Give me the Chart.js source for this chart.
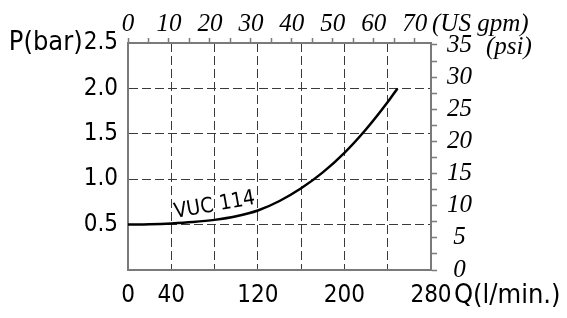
<!DOCTYPE html>
<html>
<head>
<meta charset="utf-8">
<script src="https://cdn.jsdelivr.net/npm/chart.js@4.4.0/dist/chart.umd.min.js"></script>
<style>
  html, body { margin: 0; padding: 0; background: #fff; }
</style>
</head>
<body>
<canvas id="chart" width="567" height="318"></canvas>
<script>
// curve VUC 114
const flowLpm = [0, 20, 40, 60, 80, 100, 120, 140, 160, 180, 200, 220, 240, 249];
const pressureBar = [0.5, 0.504, 0.513, 0.528, 0.552, 0.592, 0.655, 0.76, 0.9, 1.075, 1.29, 1.55, 1.85, 2.0];
const flowTickLabels = [0, 40, 120, 200, 280];
const flowMax = 280;
const pressureMax = 2.5;
const gpmMax = 73.97; // 280 l/min
const psiMax = 35.3;   // as drawn on the right axis

const axisGray = "#7a7a7a";
const gridDark = "#3a3a3a";
const sansDigits = { family: '"DejaVu Sans Condensed", "DejaVu Sans", sans-serif', size: 24 };
const serifItalic = { family: '"Liberation Serif", "DejaVu Serif", serif', size: 25, style: "italic" };
const sansTitle = '27px "DejaVu Sans Condensed", "DejaVu Sans", sans-serif';

const extraText = {
  id: "extraText",
  afterDraw(chart) {
    const { ctx, scales } = chart;
    const xs = scales.x, ys = scales.y, yr = scales.yPsi;
    ctx.save();
    ctx.fillStyle = "#000";
    ctx.textBaseline = "middle";

    // P(bar) in front of the 2.5 tick
    ctx.font = `${sansDigits.size}px ${sansDigits.family}`;
    const w25 = ctx.measureText("2.5").width;
    ctx.font = sansTitle;
    ctx.textAlign = "right";
    ctx.fillText("P(bar)", ys.right - 10 - w25 - 1, ys.getPixelForValue(2.5));

    // Q(l/min.) after the 280 tick
    ctx.textAlign = "left";
    ctx.fillText("Q(l/min.)", xs.getPixelForValue(280) + 23, xs.top + 26);

    // units of the italic axes
    ctx.font = `italic ${serifItalic.size}px ${serifItalic.family}`;
    ctx.fillText("(US gpm)", xs.right + 1, chart.chartArea.top - 19);
    ctx.fillText("(psi)", yr.left + 55, yr.getPixelForValue(35) + 2);

    // curve label
    ctx.font = '21px "DejaVu Sans Condensed", "DejaVu Sans", sans-serif';
    ctx.translate(xs.getPixelForValue(80), ys.getPixelForValue(0.71));
    ctx.rotate(-10 * Math.PI / 180);
    ctx.textAlign = "center";
    ctx.fillText("VUC 114", 0, 0);
    ctx.restore();
  }
};

const edgeClear = (max) => (c) =>
  c.tick && (c.tick.value === 0 || Math.abs(c.tick.value - max) < 1e-6) ? "rgba(0,0,0,0)" : gridDark;

new Chart(document.getElementById("chart"), {
  type: "line",
  data: {
    datasets: [{
      label: "VUC 114",
      data: flowLpm.map((q, i) => ({ x: q, y: pressureBar[i] })),
      borderColor: "#000",
      borderWidth: 2.5,
      pointRadius: 0,
      fill: false,
      cubicInterpolationMode: "monotone",
      xAxisID: "x",
      yAxisID: "y",
    }],
  },
  options: {
    responsive: false,
    animation: false,
    layout: { padding: 0 },
    plugins: { legend: { display: false }, tooltip: { enabled: false } },
    scales: {
      x: {
        type: "linear",
        position: "bottom",
        min: 0,
        max: flowMax,
        afterFit: (s) => { s.height = 48; },
        ticks: {
          stepSize: 40,
          autoSkip: false,
          maxRotation: 0,
          padding: 11,
          color: "#000",
          font: sansDigits,
          callback: (v) => (flowTickLabels.includes(v) ? String(v) : ""),
        },
        grid: { color: edgeClear(flowMax), lineWidth: 1, drawTicks: false },
        border: { color: axisGray, width: 2, dash: [9, 4] },
      },
      xGpm: {
        type: "linear",
        position: "top",
        min: 0,
        max: gpmMax,
        afterFit: (s) => { s.height = 43; },
        ticks: {
          stepSize: 5,
          includeBounds: false,
          autoSkip: false,
          maxRotation: 0,
          padding: -1,
          color: "#000",
          font: serifItalic,
          callback: (v) => (v % 10 === 0 ? String(v) : ""),
        },
        grid: { drawOnChartArea: false, tickLength: 5, color: axisGray, tickWidth: 1.5 },
        border: { color: axisGray, width: 2 },
      },
      y: {
        type: "linear",
        position: "left",
        min: 0,
        max: pressureMax,
        afterFit: (s) => { s.width = 128; },
        ticks: {
          stepSize: 0.5,
          padding: 10,
          color: "#000",
          font: sansDigits,
          callback: (v) => (v === 0 ? "" : v.toFixed(1)),
        },
        grid: { color: edgeClear(pressureMax), lineWidth: 1, drawTicks: false },
        border: { color: axisGray, width: 2, dash: [9, 4] },
      },
      yPsi: {
        type: "linear",
        position: "right",
        min: 0,
        max: psiMax,
        afterFit: (s) => { s.width = 136; },
        ticks: {
          stepSize: 2.5,
          includeBounds: false,
          autoSkip: false,
          crossAlign: "center",
          padding: 10,
          color: "#000",
          font: serifItalic,
          callback: (v) => (v % 5 === 0 ? String(v) : ""),
        },
        grid: { drawOnChartArea: false, tickLength: 6, color: axisGray, tickWidth: 1.5 },
        border: { color: axisGray, width: 2 },
      },
    },
  },
  plugins: [extraText],
});
</script>
</body>
</html>
